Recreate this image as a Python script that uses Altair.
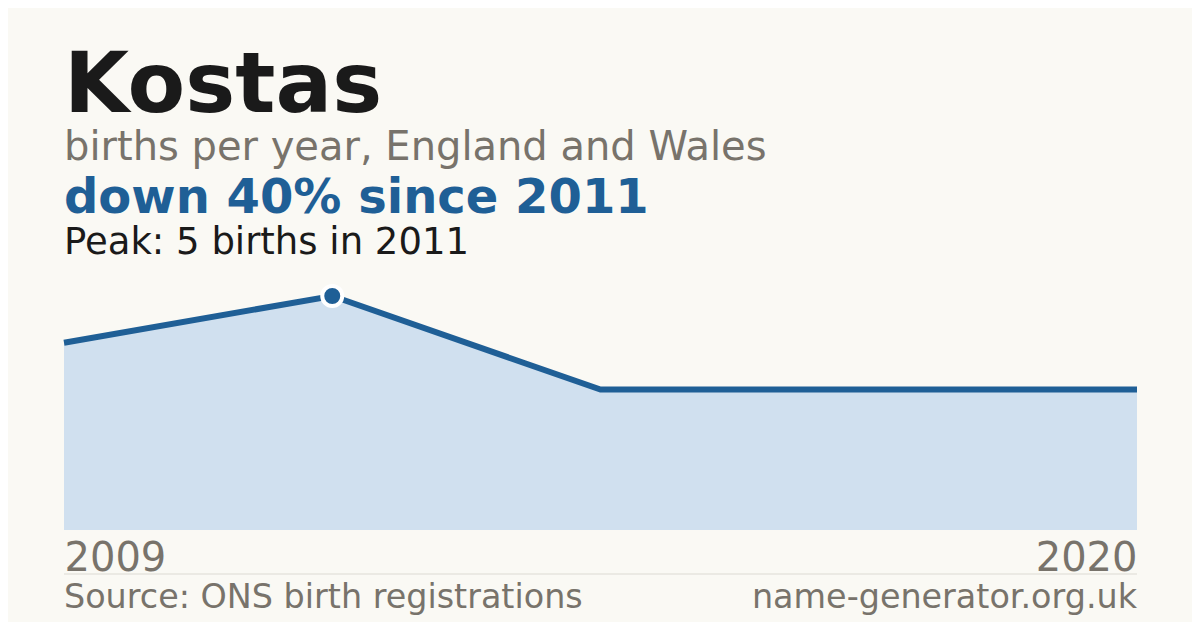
import altair as alt
import pandas as pd

years = ["2009", "2011", "2014", "2017", "2020"]
births = [4, 5, 3, 3, 3]
peak_year = "2011"
peak_value = 5

name_title = "Kostas"
subtitle = "births per year, England and Wales"
headline = "down 40% since 2011"
peak_note = "Peak: 5 births in 2011"
source_note = "Source: ONS birth registrations"
site_note = "name-generator.org.uk"

BLUE = "#1f5f96"
FILL = "#d0e0ef"
GREY = "#78736b"
INK = "#1a1a1a"
BG = "#faf9f4"
FONT = "DejaVu Sans"

df = pd.DataFrame({"idx": list(range(len(years))), "year": years, "births": births})
peak_df = df[df["year"] == peak_year]

W, H = 1073, 234
label_expr = f"datum.value == 0 ? '{years[0]}' : '{years[-1]}'"

x = alt.X(
    "idx:Q",
    scale=alt.Scale(domain=[0, len(years) - 1], nice=False, zero=False),
    axis=alt.Axis(
        values=[0, len(years) - 1],
        labelExpr=label_expr,
        labelFlush=True,
        labelFontSize=40,
        labelColor=GREY,
        labelFont=FONT,
        labelPadding=8,
        ticks=False,
        tickSize=0,
        domain=False,
        grid=False,
        title=None,
    ),
)
y = alt.Y(
    "births:Q",
    scale=alt.Scale(domain=[0, peak_value], nice=False),
    axis=None,
)

base = alt.Chart(df)
area = base.mark_area(color=FILL, opacity=1).encode(x=x, y=y)
line = base.mark_line(color=BLUE, strokeWidth=6, strokeJoin="miter").encode(x=x, y=y)
pt = alt.Chart(peak_df).mark_point(
    shape="circle", filled=True, fill=BLUE, stroke="white", strokeWidth=4, size=400, opacity=1
).encode(x=x, y=y)


def txt(text, yv, size, color, weight="normal", xv=0, align="left"):
    return alt.Chart(pd.DataFrame({"t": [text]})).mark_text(
        align=align, baseline="alphabetic", font=FONT, fontSize=size,
        fontWeight=weight, color=color
    ).encode(text="t:N", x=alt.value(xv), y=alt.value(yv))


t1 = txt(name_title, -184, 84, INK, "bold")
t2 = txt(subtitle, -136, 40, GREY)
t3 = txt(headline, -83, 48, BLUE, "bold")
t4 = txt(peak_note, -42, 37, INK)
f1 = txt(source_note, 312, 33.4, GREY)
f2 = txt(site_note, 312, 33.4, GREY, xv=W, align="right")
rule = alt.Chart(pd.DataFrame({"a": [0]})).mark_rule(color="#dcdad3", strokeWidth=1).encode(
    x=alt.value(0), x2=alt.value(W), y=alt.value(278)
)

chart = alt.layer(area, line, pt, t1, t2, t3, t4, rule, f1, f2).properties(
    width=W,
    height=H,
    background=BG,
    padding={"left": 56, "top": 288, "right": 55, "bottom": 92},
    autosize=alt.AutoSizeParams(type="none"),
).configure_view(stroke=None)

chart.save("out.html", embed_options={"renderer": "svg", "actions": False})
